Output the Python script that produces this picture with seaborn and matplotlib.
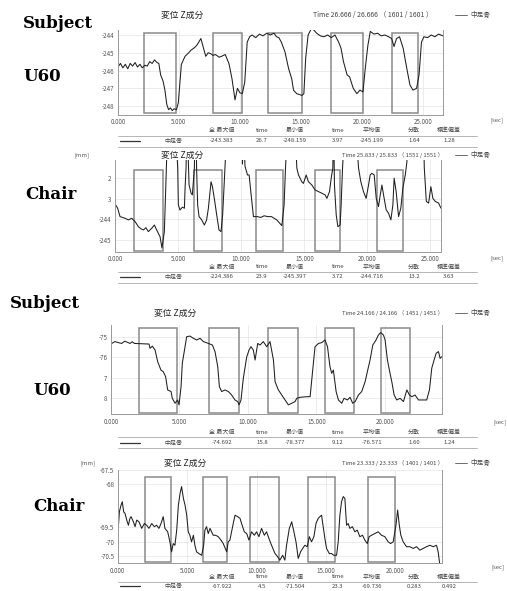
import numpy as np
import pandas as pd
import matplotlib
matplotlib.use("Agg")
import matplotlib.pyplot as plt
import seaborn as sns
from matplotlib.lines import Line2D

# =========================
# 1. Data
# =========================

# --- Panel 1 : Subject U60 ---
t1 = [0.0, 0.2, 0.4, 0.6, 0.8, 1.0, 1.2, 1.4, 1.6, 1.8, 2.0, 2.2, 2.4, 2.6, 2.8, 3.0, 3.2, 3.35, 3.5, 3.7,
      3.85, 4.0, 4.15, 4.3, 4.45, 4.6, 4.8, 4.95, 5.2, 5.5, 5.8, 6.0, 6.3, 6.5, 6.8, 7.0, 7.2, 7.4, 7.6, 7.8,
      8.0, 8.3, 8.5, 8.8, 9.1, 9.35, 9.6, 9.8, 10.0, 10.2, 10.4, 10.6, 10.8, 11.0, 11.3, 11.6, 11.9, 12.2, 12.5, 12.8,
      13.0, 13.2, 13.4, 13.7, 14.0, 14.25, 14.4, 14.66, 14.9, 15.1, 15.25, 15.4, 15.6, 15.9, 16.3, 16.6, 16.9, 17.2, 17.5, 17.8,
      18.1, 18.3, 18.5, 18.8, 19.0, 19.3, 19.6, 19.85, 20.1, 20.3, 20.5, 20.7, 21.0, 21.3, 21.6, 21.9, 22.2, 22.45, 22.65, 22.85,
      23.1, 23.4, 23.7, 23.95, 24.2, 24.5, 24.7, 24.9, 25.1, 25.4, 25.7, 26.0, 26.3, 26.666]
z1 = [-245.8, -245.6, -245.85, -245.65, -245.9, -245.6, -245.75, -245.55, -245.8, -245.65, -245.85, -245.7, -245.75, -245.5, -245.6, -245.4, -245.55, -245.6, -246.25, -246.6,
      -247.1, -247.9, -248.2, -248.1, -248.25, -248.15, -248.2, -247.8, -245.65, -245.2, -245.0, -244.85, -244.7, -244.55, -244.2, -244.7, -245.2, -245.0, -245.05, -245.15,
      -245.1, -245.25, -245.2, -245.1, -245.6, -246.45, -247.65, -247.0, -247.25, -247.3, -246.65, -244.4, -244.1, -244.0, -244.15, -243.95, -244.05, -243.9, -244.0, -243.9,
      -244.1, -244.15, -244.4, -244.95, -245.9, -246.45, -247.1, -247.3, -247.35, -247.4, -247.3, -245.3, -244.0, -243.6, -243.9, -244.05, -244.1, -244.0, -244.15, -244.0,
      -244.4, -244.75, -245.5, -246.25, -246.35, -247.0, -247.3, -247.1, -247.2, -245.8, -244.6, -243.8, -243.95, -243.9, -244.05, -244.0, -244.1, -244.2, -244.65, -244.2,
      -244.1, -244.75, -245.9, -246.8, -247.1, -247.0, -246.25, -244.4, -244.1, -244.15, -244.0, -244.1, -243.95, -244.05]
box1_start = [2.13, 7.79, 12.3, 17.5, 22.5]
box1_end = [4.76, 10.17, 15.1, 20.1, 24.6]
stats1 = ["-243.383", "26.7", "-248.159", "3.97", "-245.199", "1.64", "1.28"]

# --- Panel 2 : Chair ---
t2 = [0.05, 0.21, 0.4, 0.8, 1.06, 1.32, 1.59, 1.85, 2.05, 2.25, 2.45, 2.64, 2.91, 3.12, 3.3, 3.57, 3.72, 3.91, 4.02, 4.12,
      4.5, 4.97, 5.02, 5.15, 5.34, 5.5, 5.55, 5.63, 5.7, 5.87, 6.03, 6.13, 6.29, 6.38, 6.47, 6.55, 6.66, 6.87, 7.08, 7.26,
      7.4, 7.61, 7.72, 7.87, 8.06, 8.24, 8.4, 8.53, 8.66, 8.79, 9.5, 10.0, 10.1, 10.2, 10.3, 10.5, 10.63, 10.76, 10.97, 11.29,
      11.55, 11.82, 12.1, 12.4, 12.82, 13.22, 13.4, 13.51, 14.0, 14.41, 14.54, 14.8, 14.93, 15.15, 15.33, 15.6, 15.86, 16.12, 16.39, 16.65,
      16.79, 17.0, 17.13, 17.26, 17.32, 17.39, 17.53, 17.66, 17.84, 17.92, 18.03, 18.6, 19.3, 19.48, 19.69, 19.9, 20.09, 20.22, 20.35, 20.54,
      20.7, 20.88, 21.02, 21.15, 21.28, 21.49, 21.68, 21.86, 22.02, 22.12, 22.28, 22.47, 22.65, 22.81, 23.0, 23.13, 23.9, 24.51, 24.67, 24.85,
      25.03, 25.19, 25.38, 25.64, 25.833]
z2 = [-243.29, -243.45, -243.86, -243.94, -244.02, -243.94, -244.1, -244.35, -244.45, -244.51, -244.4, -244.59, -244.43, -244.27, -244.51, -244.84, -245.39, -244.6, -242.48, -240.5,
      -236.0, -241.5, -243.29, -243.54, -243.4, -243.45, -242.5, -241.5, -239.0, -242.32, -242.72, -242.8, -241.5, -238.0, -241.6, -243.29, -243.86, -244.02, -244.27, -244.02,
      -243.45, -242.16, -242.4, -242.97, -243.78, -244.51, -244.59, -243.78, -242.16, -240.5, -234.0, -239.0, -241.3, -239.5, -241.4, -241.83, -241.83, -242.64, -243.86, -243.86,
      -243.9, -243.82, -243.86, -243.86, -244.02, -244.3, -243.29, -241.5, -236.0, -241.5, -241.83, -242.16, -242.24, -241.83, -242.16, -242.32, -242.56, -242.64, -242.72, -242.8,
      -242.97, -242.64, -241.99, -241.5, -239.0, -242.32, -243.78, -244.35, -244.27, -243.29, -241.5, -235.0, -241.5, -242.16, -242.64, -242.97, -242.32, -241.83, -241.75, -241.83,
      -242.97, -243.37, -242.8, -242.32, -242.8, -243.53, -243.7, -244.02, -243.29, -241.99, -242.64, -243.86, -243.45, -242.48, -241.83, -241.2, -224.39, -241.5, -243.12, -243.2,
      -242.4, -242.97, -243.12, -243.2, -243.45]
box2_start = [1.53, 6.29, 11.16, 15.86, 20.8]
box2_end = [3.83, 8.46, 13.35, 17.84, 22.8]
stats2 = ["-224.386", "23.9", "-245.397", "3.72", "-244.716", "13.2", "3.63"]

# --- Panel 3 : Subject U60 ---
t3 = [0.05, 0.29, 0.53, 0.78, 1.0, 1.15, 1.39, 1.55, 1.71, 2.78, 2.85, 3.02, 3.22, 3.41, 3.65, 3.82, 3.99, 4.14, 4.39, 4.48,
      4.68, 4.87, 4.97, 5.12, 5.21, 5.41, 5.53, 5.77, 6.02, 6.26, 6.51, 6.75, 7.12, 7.41, 7.6, 7.8, 7.92, 8.09, 8.33, 8.58,
      8.82, 9.06, 9.26, 9.36, 9.5, 9.67, 9.92, 10.09, 10.23, 10.4, 10.53, 10.72, 10.89, 11.13, 11.38, 11.62, 11.87, 11.99, 12.23, 12.48,
      12.72, 12.96, 13.21, 13.45, 13.57, 13.82, 14.3, 14.55, 14.74, 14.91, 15.16, 15.4, 15.64, 15.82, 16.0, 16.13, 16.25, 16.45, 16.62, 16.86,
      17.03, 17.28, 17.47, 17.66, 17.84, 18.08, 18.32, 18.57, 18.76, 18.93, 19.13, 19.37, 19.54, 19.71, 19.91, 20.03, 20.2, 20.39, 20.52, 20.69,
      20.88, 21.13, 21.37, 21.62, 21.81, 21.98, 22.22, 22.47, 22.83, 23.07, 23.27, 23.44, 23.61, 23.76, 23.93, 24.05, 24.166]
z3 = [-75.33, -75.24, -75.29, -75.33, -75.22, -75.26, -75.33, -75.25, -75.33, -75.36, -75.57, -75.46, -75.65, -76.22, -76.63, -76.71, -76.95, -77.6, -77.68, -78.01,
      -78.25, -78.09, -78.33, -77.44, -76.3, -75.49, -75.0, -74.97, -75.08, -75.16, -75.08, -75.24, -75.33, -75.41, -75.73, -76.46, -77.44, -77.68, -77.6, -77.68,
      -77.85, -78.09, -78.17, -78.33, -78.09, -77.03, -75.98, -75.65, -75.49, -75.65, -76.14, -75.33, -75.41, -75.24, -75.49, -75.24, -76.14, -77.2, -77.6, -77.85,
      -78.09, -78.33, -78.25, -78.17, -78.01, -77.96, -77.93, -77.93, -76.63, -75.49, -75.33, -75.29, -75.16, -75.49, -76.46, -76.79, -76.63, -77.68, -78.09, -78.25,
      -78.01, -78.09, -77.96, -78.25, -78.17, -77.85, -77.68, -77.2, -76.63, -76.14, -75.41, -75.16, -74.92, -74.8, -74.92, -75.16, -76.14, -76.79, -77.2, -77.85,
      -78.09, -78.01, -78.17, -77.6, -77.85, -77.93, -77.85, -78.09, -78.09, -78.09, -77.6, -76.54, -76.14, -75.81, -75.73, -76.06, -75.98]
box3_start = [2.07, 7.19, 11.5, 15.64, 19.74]
box3_end = [4.80, 9.38, 13.7, 17.78, 21.86]
stats3 = ["-74.692", "15.8", "-78.377", "9.12", "-76.571", "1.60", "1.24"]

# --- Panel 4 : Chair ---
t4 = [0.05, 0.12, 0.24, 0.33, 0.43, 0.53, 0.65, 0.77, 0.88, 0.96,
      1.13, 1.25, 1.37, 1.53, 1.73, 1.92, 2.09, 2.25, 2.45, 2.64,
      2.8, 2.97, 3.12, 3.28, 3.4, 3.6, 3.76, 3.88, 4.0, 4.12,
      4.25, 4.37, 4.49, 4.6, 4.73, 4.85, 4.97, 5.08, 5.2, 5.32,
      5.45, 5.56, 5.68, 5.85, 6.05, 6.19, 6.28, 6.4, 6.52, 6.65,
      6.76, 6.88, 7.05, 7.24, 7.44, 7.6, 7.85, 7.96, 8.08, 8.2,
      8.32, 8.45, 8.64, 8.81, 8.92, 9.12, 9.29, 9.45, 9.64, 9.84,
      10.0, 10.17, 10.36, 10.56, 10.72, 10.89, 11.08, 11.33, 11.44, 11.68,
      11.88, 12.04, 12.16, 12.36, 12.53, 12.69, 12.84, 13.0, 13.17, 13.32,
      13.48, 13.65, 13.8, 13.96, 14.13, 14.28, 14.44, 14.56, 14.68, 14.8,
      14.92, 15.04, 15.24, 15.4, 15.57, 15.76, 15.88, 16.0, 16.12, 16.24,
      16.36, 16.48, 16.6, 16.72, 16.9, 17.08, 17.25, 17.44, 17.63, 17.8,
      17.97, 18.11, 18.28, 18.52, 18.76, 19.0, 19.24, 19.48, 19.65, 19.84,
      20.04, 20.16, 20.28, 20.39, 20.56, 20.8, 21.04, 21.28, 21.52, 21.76,
      22.0, 22.24, 22.48, 22.72, 22.96, 23.08, 23.2, 23.333]
z4 = [-69.48, -68.96, -68.73, -68.61, -68.96, -69.02, -69.25, -69.43, -69.19, -69.13,
      -69.31, -69.48, -69.25, -69.31, -69.54, -69.37, -69.43, -69.54, -69.37, -69.48,
      -69.43, -69.54, -69.37, -69.13, -69.54, -69.66, -70.01, -70.36, -70.07, -70.13,
      -69.6, -68.73, -68.32, -68.08, -68.49, -68.73, -69.08, -69.66, -69.78, -70.01,
      -69.78, -70.13, -70.36, -70.42, -70.48, -70.13, -69.6, -69.48, -69.72, -69.54,
      -69.66, -69.78, -69.78, -69.83, -69.95, -70.07, -70.36, -70.01, -69.95, -69.66,
      -69.37, -69.08, -69.13, -69.19, -69.37, -69.66, -69.72, -69.95, -69.66, -69.78,
      -69.66, -69.83, -69.54, -69.78, -69.66, -69.89, -70.13, -70.42, -70.48, -70.65,
      -70.48, -70.65, -70.13, -69.54, -69.31, -69.66, -70.01, -70.59, -70.36, -70.24,
      -70.13, -70.18, -69.83, -70.01, -69.83, -69.37, -69.19, -69.13, -69.08, -69.48,
      -69.89, -70.24, -70.42, -70.42, -70.48, -70.48, -70.01, -69.08, -68.61, -68.43,
      -68.49, -69.43, -69.37, -69.54, -69.48, -69.66, -69.6, -69.83, -69.78, -69.95,
      -70.07, -69.83, -69.78, -69.72, -69.66, -69.78, -69.83, -70.01, -70.07, -70.01,
      -69.43, -68.9, -69.43, -69.78, -70.01, -70.18, -70.18, -70.24, -70.18, -70.3,
      -70.24, -70.18, -70.13, -70.18, -70.13, -70.36, -70.83, -71.5]
box4_start = [1.97, 6.16, 9.53, 13.72, 18.04]
box4_end = [3.84, 7.84, 11.64, 15.65, 19.97]
stats4 = ["-67.922", "4.5", "-71.504", "23.3", "-69.736", "0.283", "0.492"]

# tick values / labels
yticks1 = [-244, -245, -246, -247, -248]
ylabels1 = ["-244", "-245", "-246", "-247", "-248"]
yticks2 = [-242, -243, -244, -245]
ylabels2 = ["2", "3", "-244", "-245"]
yticks3 = [-75, -76, -77, -78]
ylabels3 = ["-75", "-76", "7", "8"]
yticks4 = [-67.5, -68, -69.5, -70, -70.5]
ylabels4 = ["-67.5", "-68", "-69.5", "-70", "-70.5"]
xticks_long = [0, 5, 10, 15, 20, 25]
xticks_short = [0, 5, 10, 15, 20]

header = ["全 最大値", "time", "最小値", "time", "平均値", "分散", "標準偏差"]
title_text = "変位 Z成分"
series_name = "中足骨"

# =========================
# 2. Layout (pixels of a 507x591 canvas)
# =========================
W, H = 507, 591
panels = [
    dict(t=t1, z=z1, bs=box1_start, be=box1_end, stats=stats1, yt=yticks1, yl=ylabels1, xt=xticks_long,
         box=(0.024, 0.965), xmax=26.666, ylim=(-248.5, -243.72), ax=(118, 30, 443, 115),
         time="Time 26.666 / 26.666 （ 1601 / 1601 ）", tsize=5.0, tright=433,
         title=(182, 15), sec=(497, 120), mm=None, rows=(130, 141, 135.5, 146.5)),
    dict(t=t2, z=z2, bs=box2_start, be=box2_end, stats=stats2, yt=yticks2, yl=ylabels2, xt=xticks_long,
         box=(0.01, 0.89), xmax=25.833, ylim=(-245.57, -241.1), ax=(115, 160, 441, 251.7),
         time="Time 25.833 / 25.833 （ 1551 / 1551 ）", tsize=4.2, tright=443,
         title=(182, 155), sec=(497, 258), mm=(82, 155), rows=(267, 277, 271.7, 282.7)),
    dict(t=t3, z=z3, bs=box3_start, be=box3_end, stats=stats3, yt=yticks3, yl=ylabels3, xt=xticks_short,
         box=(0.011, 0.966), xmax=24.166, ylim=(-78.79, -74.43), ax=(111, 325, 441.7, 414.3),
         time="Time 24.166 / 24.166 （ 1451 / 1451 ）", tsize=4.2, tright=443,
         title=(175, 313), sec=(500, 422), mm=None, rows=(432, 443, 436.7, 448.3)),
    dict(t=t4, z=z4, bs=box4_start, be=box4_end, stats=stats4, yt=yticks4, yl=ylabels4, xt=xticks_short,
         box=(0.018, 0.925), xmax=23.333, ylim=(-70.76, -67.5), ax=(117.7, 470, 441.7, 563.3),
         time="Time 23.333 / 23.333 （ 1401 / 1401 ）", tsize=4.2, tright=443,
         title=(185, 463), sec=(498, 567), mm=(88, 463), rows=(577, 586, 581.7, None)),
]
col_x = [222, 262, 295, 338, 372, 414, 449]

side_labels = [("Subject", 23, 28), ("U60", 23, 81), ("Chair", 25, 199),
               ("Subject", 10, 308), ("U60", 33, 395), ("Chair", 33, 511)]

# =========================
# 3. Plot
# =========================
sns.set_style("white")
plt.rcParams['font.family'] = ['Noto Sans CJK JP', 'DejaVu Sans']

fig = plt.figure(figsize=(W / 100, H / 100), dpi=100)


def fx(x):
    return x / W


def fy(y):
    return 1 - y / H


for p in panels:
    l, t, r, b = p["ax"]
    ax = fig.add_axes([fx(l), fy(b), fx(r) - fx(l), fy(t) - fy(b)])

    sns.lineplot(x=p["t"], y=p["z"], ax=ax, color="#1e1e1e", linewidth=0.75,
                 estimator=None, sort=False)

    for s, e in zip(p["bs"], p["be"]):
        ax.axvspan(s, e, ymin=p["box"][0], ymax=p["box"][1], fill=False,
                   edgecolor="#8a8a8a", linewidth=1.1)

    ax.set_xlim(0, p["xmax"])
    ax.set_ylim(*p["ylim"])
    ax.set_xticks(p["xt"])
    ax.set_xticklabels([f"{v:.3f}" for v in p["xt"]])
    ax.set_yticks(p["yt"])
    ax.set_yticklabels(p["yl"])
    ax.tick_params(length=0, labelsize=4.5, labelcolor="#555555", pad=2.5)
    ax.grid(True, color="#e4e4e4", linewidth=0.5)
    ax.set_xlabel("")
    ax.set_ylabel("")
    for side in ["left", "bottom", "right"]:
        ax.spines[side].set_color("#9a9a9a")
        ax.spines[side].set_linewidth(0.7)
    ax.spines["top"].set_visible(False)

    # headings
    fig.text(fx(p["title"][0]), fy(p["title"][1]), title_text, fontsize=6.3,
             color="#222222", ha="center", va="center")
    fig.text(fx(p["tright"]), fy(p["title"][1]), p["time"], fontsize=p["tsize"],
             color="#444444", ha="right", va="center")
    fig.add_artist(Line2D([fx(455), fx(467)], [fy(p["title"][1])] * 2,
                          color="#555555", linewidth=0.6))
    fig.text(fx(470), fy(p["title"][1]), series_name, fontsize=4.8,
             color="#444444", ha="left", va="center")
    fig.text(fx(p["sec"][0]), fy(p["sec"][1]), "[sec]", fontsize=4.3,
             color="#555555", ha="center", va="center")
    if p["mm"] is not None:
        fig.text(fx(p["mm"][0]), fy(p["mm"][1]), "[mm]", fontsize=4.3,
                 color="#555555", ha="center", va="center")

    # statistics table
    hy, ry, l1, l2 = p["rows"]
    for x, txt in zip(col_x, header):
        fig.text(fx(x), fy(hy), txt, fontsize=4.3, color="#444444",
                 ha="center", va="center")
    fig.add_artist(Line2D([fx(120), fx(140)], [fy(ry)] * 2, color="#333333", linewidth=0.9))
    fig.text(fx(173), fy(ry), series_name, fontsize=4.3, color="#444444",
             ha="center", va="center")
    for x, txt in zip(col_x, p["stats"]):
        fig.text(fx(x), fy(ry), txt, fontsize=4.3, color="#444444",
                 ha="center", va="center")
    for ly in (l1, l2):
        if ly is not None:
            fig.add_artist(Line2D([fx(118), fx(477)], [fy(ly)] * 2,
                                  color="#aaaaaa", linewidth=0.6))

for txt, x, y in side_labels:
    fig.text(fx(x), fy(y), txt, fontsize=12, fontweight="bold",
             family="DejaVu Serif", color="black", ha="left", va="baseline")

fig.savefig("out.png", dpi=100)
